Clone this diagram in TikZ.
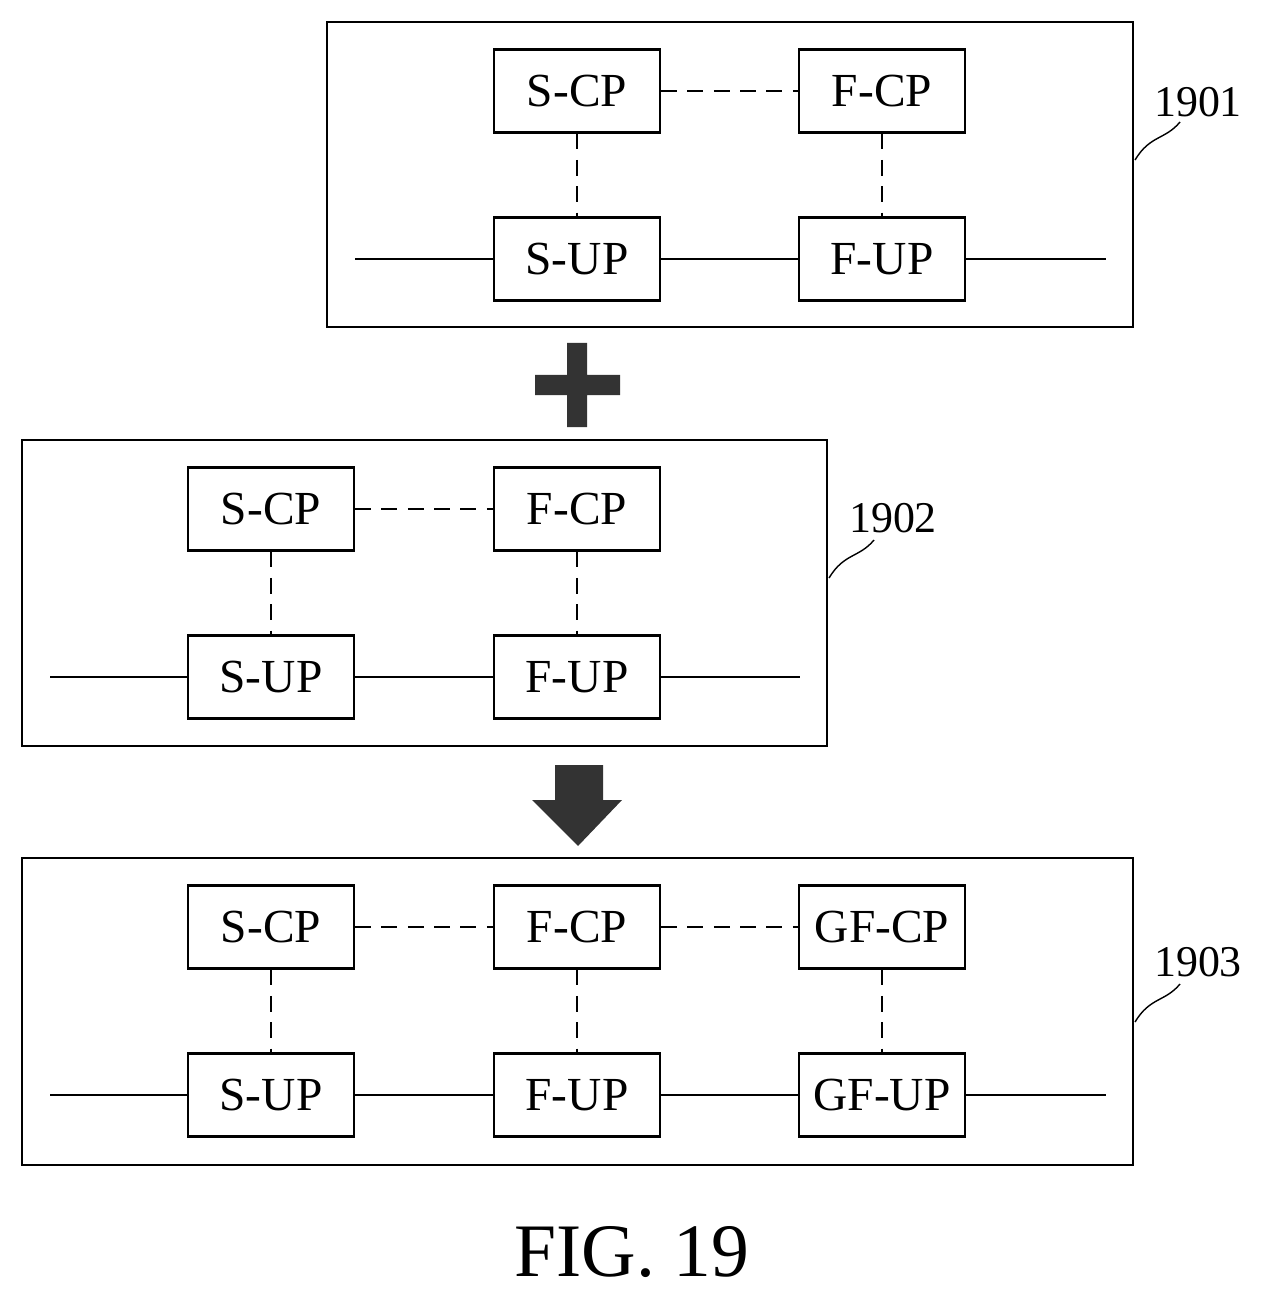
\documentclass[tikz,border=0pt]{standalone}
\usepackage{fontspec}
\setmainfont{Liberation Serif}
\begin{document}
\begin{tikzpicture}[x=0.02cm,y=-0.02cm,
    blk/.style={draw,line width=1.2pt,minimum width=3.32cm,minimum height=1.66cm,font=\fontsize{27}{30}\selectfont,inner sep=0pt},
    frame/.style={draw,line width=1.2pt},
    dsh/.style={dashed,dash pattern=on 9pt off 6pt,line width=0.8pt},
    lnk/.style={line width=0.8pt},
    tag/.style={font=\fontsize{25}{28}\selectfont}]
  \useasboundingbox (0,0) rectangle (1264,1300);
  % 1901
  \draw[frame] (327,22) rectangle (1133,327);
  \node[blk] (1scp) at (577,91) {S-CP};
  \node[blk] (1fcp) at (882,91) {F-CP};
  \node[blk] (1sup) at (577,259) {S-UP};
  \node[blk] (1fup) at (882,259) {F-UP};
  \coordinate (1l) at (355,259);
  \coordinate (1r) at (1106,259);
  \draw[dsh] (1scp) -- (1fcp);
  \draw[dsh] (1scp) -- (1sup);
  \draw[dsh] (1fcp) -- (1fup);
  \draw[lnk] (1l) -- (1sup) -- (1fup) -- (1r);
  \node[tag] (1t) at (1198,102) {1901};
  \draw[lnk] (1135,160) .. controls (1150,135) and (1165,140) .. (1180,122);
  % plus
  \fill[black!80] (535,375) rectangle (620,395) (567,343) rectangle (587,427);
  % 1902
  \draw[frame] (22,440) rectangle (827,746);
  \node[blk] (2scp) at (271,509) {S-CP};
  \node[blk] (2fcp) at (577,509) {F-CP};
  \node[blk] (2sup) at (271,677) {S-UP};
  \node[blk] (2fup) at (577,677) {F-UP};
  \coordinate (2l) at (50,677);
  \coordinate (2r) at (800,677);
  \draw[dsh] (2scp) -- (2fcp);
  \draw[dsh] (2scp) -- (2sup);
  \draw[dsh] (2fcp) -- (2fup);
  \draw[lnk] (2l) -- (2sup) -- (2fup) -- (2r);
  \node[tag] (2t) at (893,518) {1902};
  \draw[lnk] (829,578) .. controls (844,553) and (859,558) .. (874,540);
  % arrow
  \fill[black!80] (555,765) -- (603,765) -- (603,800) -- (622,800) -- (578,846)
    -- (532,800) -- (555,800) -- cycle;
  % 1903
  \draw[frame] (22,858) rectangle (1133,1165);
  \node[blk] (3scp) at (271,927) {S-CP};
  \node[blk] (3fcp) at (577,927) {F-CP};
  \node[blk] (3gcp) at (882,927) {GF-CP};
  \node[blk] (3sup) at (271,1095) {S-UP};
  \node[blk] (3fup) at (577,1095) {F-UP};
  \node[blk] (3gup) at (882,1095) {GF-UP};
  \coordinate (3l) at (50,1095);
  \coordinate (3r) at (1106,1095);
  \draw[dsh] (3scp) -- (3fcp) -- (3gcp);
  \draw[dsh] (3scp) -- (3sup);
  \draw[dsh] (3fcp) -- (3fup);
  \draw[dsh] (3gcp) -- (3gup);
  \draw[lnk] (3l) -- (3sup) -- (3fup) -- (3gup) -- (3r);
  \node[tag] (3t) at (1198,962) {1903};
  \draw[lnk] (1135,1022) .. controls (1150,997) and (1165,1002) .. (1180,984);
  \node[font=\fontsize{43}{48}\selectfont] (fig) at (632,1252) {FIG. 19};
\end{tikzpicture}
\end{document}
